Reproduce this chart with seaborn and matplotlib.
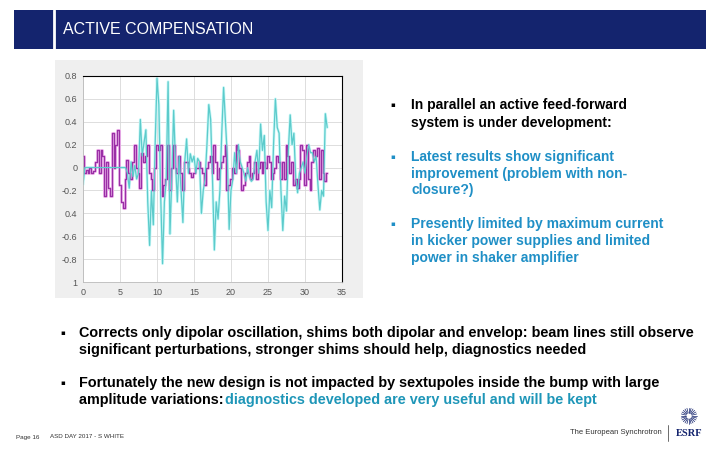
import numpy as np
import pandas as pd
import seaborn as sns
import matplotlib.pyplot as plt
from matplotlib.patches import Rectangle
from matplotlib.lines import Line2D

# --- dados ---
cyan_vals = [
    -0.15, 0.0, 0, 0, 0, 0, 0, 0, 0, 0, 0, 0, 0, 0, 0, 0, 0, 0, 0, 0, 0, 0, 0, 0,
    -0.05, -0.18, 0.05, -0.08, 0.02, -0.10, -0.05, 0.42, 0.10, 0.22, 0.33, -0.30,
    -0.68, -0.20, -0.50, 0.20, 0.78, 0.55, -0.25, -0.84, -0.30, -0.10, 0.75, -0.58,
    -0.10, 0.50, 0.05, -0.30, 0.10, -0.20, -0.48, 0.05, 0.25, -0.05, 0.12, 0.05,
    0.10, -0.05, 0.08, 0.05, -0.40, -0.20, -0.10, 0.20, 0.55, 0.42, -0.10, -0.72,
    -0.30, -0.45, -0.20, 0.30, 0.70, 0.40, 0.10, -0.54, -0.20, -0.10, 0.13, -0.05,
    0.20, 0.05, 0.00, -0.05, -0.12, 0.00, -0.08, -0.12, -0.10, 0.05, 0.15, -0.05,
    0.38, 0.15, 0.28, -0.30, -0.55, -0.20, -0.35, 0.20, 0.60, 0.35, 0.30, -0.20,
    -0.55, -0.25, -0.38, 0.15, 0.46, 0.20, 0.30, -0.10, -0.22, -0.05, 0.00, 0.05,
    -0.05, 0.10, 0.20, 0.13, 0.13, 0.05, 0.10, -0.15, -0.37, -0.20, -0.25, 0.47,
    0.35,
]
purple_vals = [
    0.10, -0.05, -0.02, -0.05, 0.00, -0.05, -0.03, 0.05, 0.15, -0.05, 0.15, 0.10,
    -0.25, 0.05, -0.18, -0.25, 0.30, 0.00, 0.20, 0.33, -0.15, -0.30, -0.35, -0.10,
    0.07, -0.05, -0.10, 0.05, 0.20, 0.00, -0.05, -0.18, 0.13, 0.05, 0.10, 0.20,
    -0.05, -0.10, -0.20, 0.00, 0.20, 0.15, 0.20, -0.25, -0.15, -0.10, 0.20, -0.20,
    0.00, 0.20, 0.00, -0.05, 0.10, -0.05, -0.20, 0.05, 0.05, 0.00, -0.05, -0.08,
    -0.05, 0.00, 0.00, 0.05, 0.00, -0.05, -0.15, 0.00, 0.05, 0.10, -0.05, 0.20,
    0.05, -0.10, 0.00, 0.05, 0.10, 0.20, -0.20, -0.15, -0.10, 0.00, -0.05, 0.20,
    0.15, 0.00, -0.20, -0.15, -0.05, 0.05, 0.10, -0.10, -0.05, 0.05, -0.10, 0.00,
    0.05, -0.05, 0.05, 0.00, 0.10, 0.05, -0.10, -0.05, 0.00, 0.10, 0.05, -0.10,
    0.05, -0.10, 0.20, 0.10, -0.05, 0.05, -0.15, -0.10, -0.18, -0.10, 0.20, 0.15,
    -0.15, 0.20, -0.10, -0.20, 0.05, 0.15, 0.10, 0.17, -0.10, 0.15, -0.05, -0.12,
    -0.05,
]
t_end = 33.0
y_ticks = [-1.0, -0.8, -0.6, -0.4, -0.2, 0.0, 0.2, 0.4, 0.6, 0.8]
y_tick_labels = ['1', '-0.8', '-0.6', '0.4', '-0.2', '0', '0.2', '0.4', '0.6', '0.8']
x_ticks = [0, 5, 10, 15, 20, 25, 30, 35]

title = 'ACTIVE COMPENSATION'
right_bullets = [
    (['In parallel an active feed-forward', 'system is under development:'], 'black', [105, 123]),
    (['Latest results show significant', 'improvement (problem with non-', 'closure?)'], '#1f8fc6', [157, 174, 190]),
    (['Presently limited by maximum current', 'in kicker power supplies and limited',
      'power in shaker amplifier'], '#1f8fc6', [224, 241, 258]),
]
bottom_bullets = [
    (['Corrects only dipolar oscillation, shims both dipolar and envelop: beam lines still observe',
      'significant perturbations, stronger shims should help, diagnostics needed'], [333, 350]),
    (['Fortunately the new design is not impacted by sextupoles inside the bump with large',
      'amplitude variations:'], [383, 400]),
]
highlight = 'diagnostics developed are very useful and will be kept'

W, H = 720, 450
NAVY = '#14246e'
FONT = 'Liberation Sans'


def px(x, y):
    return x / W, 1 - y / H


df = pd.DataFrame({
    't': np.linspace(0, t_end, len(cyan_vals)),
    'cyan': cyan_vals,
    'purple': purple_vals,
})

sns.set_style('white')
plt.rcParams['font.family'] = [FONT, 'DejaVu Sans']
fig = plt.figure(figsize=(7.2, 4.5), dpi=100)

# barra do título
fig.patches.append(Rectangle(px(14, 49), 692 / W, 39 / H, transform=fig.transFigure,
                             facecolor=NAVY, edgecolor='none', zorder=-2))
fig.lines.append(Line2D([54 / W, 54 / W], [1 - 49 / H, 1 - 10 / H], transform=fig.transFigure,
                        color='white', lw=2, zorder=-1))
fig.text(*px(63, 29), title, color='white', fontsize=11.5, va='center', ha='left')

# painel cinza do gráfico
fig.patches.append(Rectangle(px(55, 298), 308 / W, 238 / H, transform=fig.transFigure,
                             facecolor='#efefef', edgecolor='none', zorder=-2))

ax = fig.add_axes([83 / W, 1 - 282 / H, 259 / W, 206 / H])
ax.set_zorder(1)
ax.set_facecolor('white')
sns.lineplot(data=df, x='t', y='cyan', ax=ax, color='#c9f7f7', lw=2.0)
sns.lineplot(data=df, x='t', y='purple', ax=ax, color='#f6c4f2', lw=2.2, drawstyle='steps-mid')
sns.lineplot(data=df, x='t', y='purple', ax=ax, color='#9a2fa6', lw=1.0, drawstyle='steps-mid')
sns.lineplot(data=df, x='t', y='cyan', ax=ax, color='#5ccbcb', lw=0.9)

ax.set_xlim(0, 35)
ax.set_ylim(-1, 0.8)
ax.set_xticks(x_ticks)
ax.set_yticks(y_ticks)
ax.set_yticklabels(y_tick_labels)
ax.set_xlabel('')
ax.set_ylabel('')
ax.grid(True, color='#d8d8d8', lw=0.6)
ax.tick_params(labelsize=6.5, labelcolor='#555555', length=2, color='#888888', pad=2)
for side in ['top', 'right']:
    ax.spines[side].set_color('black')
    ax.spines[side].set_linewidth(0.8)
for side in ['left', 'bottom']:
    ax.spines[side].set_color('#bbbbbb')
    ax.spines[side].set_linewidth(0.6)

# texto à direita
for lines, color, ys in right_bullets:
    fig.text(*px(390, ys[0]), '▪', fontsize=5, color=color, va='center', family='DejaVu Sans')
    for line, y in zip(lines, ys):
        fig.text(*px(411, y), line, fontsize=10, weight='bold', color=color, va='center')

# texto de baixo
for lines, ys in bottom_bullets:
    fig.text(*px(60, ys[0]), '▪', fontsize=5, color='black', va='center', family='DejaVu Sans')
    for line, y in zip(lines, ys):
        fig.text(*px(79, y), line, fontsize=10.4, weight='bold', color='black', va='center')
fig.text(*px(225, 400), highlight, fontsize=10.4, weight='bold', color='#1e96b8', va='center')

# rodapé
fig.text(*px(16, 437), 'Page 16', fontsize=4.5, color='#333333', va='center')
fig.text(*px(50, 437), 'ASD DAY 2017 - S WHITE', fontsize=4.5, color='#333333', va='center')
fig.text(*px(662, 433), 'The European Synchrotron', fontsize=5.5, color='#333333',
         va='center', ha='right')
fig.lines.append(Line2D([668 / W, 668 / W], [1 - 441 / H, 1 - 425 / H], transform=fig.transFigure,
                        color='#555555', lw=0.6))
fig.text(*px(676, 434), 'ESRF', fontsize=7.5, color=NAVY, weight='bold', va='center',
         family='Liberation Serif')
cx, cy = px(689, 416)
for k in range(24):
    a = 2 * np.pi * k / 24
    r0, r1 = 3.0, 8.0
    fig.lines.append(Line2D([cx + r0 * np.cos(a) / W, cx + r1 * np.cos(a) / W],
                            [cy + r0 * np.sin(a) / H, cy + r1 * np.sin(a) / H],
                            transform=fig.transFigure, color=NAVY, lw=0.5))

fig.savefig('out.png', dpi=100)
